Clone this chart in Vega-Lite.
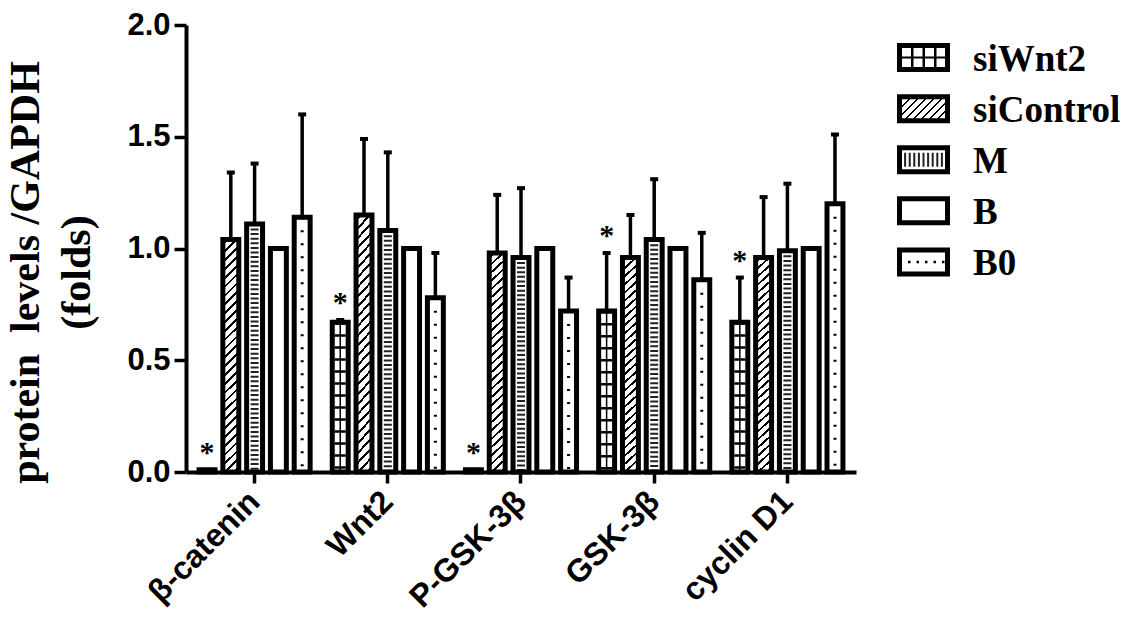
{
  "$schema": "https://vega.github.io/schema/vega-lite/v6.json",
  "width": 670,
  "height": 447,
  "autosize": {"type": "none"},
  "padding": {"left": 186, "top": 25, "right": 290, "bottom": 146},
  "background": "white",
  "config": {
    "view": {"stroke": null},
    "axisY": {
      "titleFont": "Liberation Serif",
      "titleFontSize": 42,
      "titleFontWeight": "bold",
      "titleColor": "black",
      "titleLineHeight": 51,
      "titleAngle": 270,
      "titleAlign": "center",
      "titleBaseline": "alphabetic",
      "titleX": -148,
      "titleY": 247,
      "grid": false,
      "labelFont": "Liberation Sans",
      "labelFontSize": 31,
      "labelFontWeight": "bold",
      "labelColor": "black",
      "labelPadding": 4,
      "tickSize": 12,
      "tickWidth": 3.5,
      "tickColor": "black",
      "domainColor": "black",
      "domainWidth": 4
    }
  },
  "datasets": {
    "bars": [
      {"category": "β-catenin", "group": "siWnt2", "value": 0.01, "upper": 0.01, "sig": "*"},
      {"category": "β-catenin", "group": "siControl", "value": 1.04, "upper": 1.34, "sig": ""},
      {"category": "β-catenin", "group": "M", "value": 1.11, "upper": 1.38, "sig": ""},
      {"category": "β-catenin", "group": "B", "value": 1.0, "upper": null, "sig": ""},
      {"category": "β-catenin", "group": "B0", "value": 1.14, "upper": 1.6, "sig": ""},
      {"category": "Wnt2", "group": "siWnt2", "value": 0.67, "upper": 0.68, "sig": "*"},
      {"category": "Wnt2", "group": "siControl", "value": 1.15, "upper": 1.49, "sig": ""},
      {"category": "Wnt2", "group": "M", "value": 1.08, "upper": 1.43, "sig": ""},
      {"category": "Wnt2", "group": "B", "value": 1.0, "upper": null, "sig": ""},
      {"category": "Wnt2", "group": "B0", "value": 0.78, "upper": 0.98, "sig": ""},
      {"category": "P-GSK-3β", "group": "siWnt2", "value": 0.01, "upper": 0.01, "sig": "*"},
      {"category": "P-GSK-3β", "group": "siControl", "value": 0.98, "upper": 1.24, "sig": ""},
      {"category": "P-GSK-3β", "group": "M", "value": 0.96, "upper": 1.27, "sig": ""},
      {"category": "P-GSK-3β", "group": "B", "value": 1.0, "upper": null, "sig": ""},
      {"category": "P-GSK-3β", "group": "B0", "value": 0.72, "upper": 0.87, "sig": ""},
      {"category": "GSK-3β", "group": "siWnt2", "value": 0.72, "upper": 0.98, "sig": "*"},
      {"category": "GSK-3β", "group": "siControl", "value": 0.96, "upper": 1.15, "sig": ""},
      {"category": "GSK-3β", "group": "M", "value": 1.04, "upper": 1.31, "sig": ""},
      {"category": "GSK-3β", "group": "B", "value": 1.0, "upper": null, "sig": ""},
      {"category": "GSK-3β", "group": "B0", "value": 0.86, "upper": 1.07, "sig": ""},
      {"category": "cyclin D1", "group": "siWnt2", "value": 0.67, "upper": 0.87, "sig": "*"},
      {"category": "cyclin D1", "group": "siControl", "value": 0.96, "upper": 1.23, "sig": ""},
      {"category": "cyclin D1", "group": "M", "value": 0.99, "upper": 1.29, "sig": ""},
      {"category": "cyclin D1", "group": "B", "value": 1.0, "upper": null, "sig": ""},
      {"category": "cyclin D1", "group": "B0", "value": 1.2, "upper": 1.51, "sig": ""}
    ],
    "legend": [
      {"group": "siWnt2"},
      {"group": "siControl"},
      {"group": "M"},
      {"group": "B"},
      {"group": "B0"}
    ]
  },
  "layer": [
    {
      "data": {"name": "bars"},
      "encoding": {
        "x": {
          "field": "category",
          "type": "nominal",
          "sort": ["β-catenin", "Wnt2", "P-GSK-3β", "GSK-3β", "cyclin D1"],
          "scale": {"paddingInner": 0.1, "paddingOuter": 0.065},
          "axis": {
            "title": null,
            "labelAngle": -45,
            "labelAlign": "right",
            "labelBaseline": "middle",
            "labelFont": "Liberation Sans",
            "labelFontSize": 32,
            "labelFontWeight": "bold",
            "labelColor": "black",
            "labelPadding": 13,
            "tickSize": 11,
            "tickWidth": 3.5,
            "tickColor": "black",
            "domainColor": "black",
            "domainWidth": 4
          }
        },
        "xOffset": {
          "field": "group",
          "type": "nominal",
          "sort": ["siWnt2", "siControl", "M", "B", "B0"],
          "scale": {"paddingInner": 0.33, "paddingOuter": 0.185}
        },
        "y": {
          "field": "value",
          "type": "quantitative",
          "scale": {"domain": [0, 2], "nice": false},
          "axis": {"title": ["protein\u00a0\u00a0levels /GAPDH", "(folds)"], "values": [0, 0.5, 1, 1.5, 2], "format": ".1f"}
        }
      },
      "layer": [
        {"mark": {"type": "bar", "fill": "white", "stroke": null}},
        {
          "transform": [{"filter": "datum.group === 'siControl'"}],
          "mark": {
            "type": "bar",
            "stroke": null,
            "fill": {
              "gradient": "linear",
              "x1": 0, "y1": 0, "x2": 0.072, "y2": 1.06,
              "stops": [
                {"offset": 0, "color": "white"},
                {"offset": 0.0143, "color": "white"}, {"offset": 0.0143, "color": "black"}, {"offset": 0.0253, "color": "black"}, {"offset": 0.0253, "color": "white"},
                {"offset": 0.05, "color": "white"}, {"offset": 0.05, "color": "black"}, {"offset": 0.061, "color": "black"}, {"offset": 0.061, "color": "white"},
                {"offset": 0.0857, "color": "white"}, {"offset": 0.0857, "color": "black"}, {"offset": 0.0967, "color": "black"}, {"offset": 0.0967, "color": "white"},
                {"offset": 0.1214, "color": "white"}, {"offset": 0.1214, "color": "black"}, {"offset": 0.1324, "color": "black"}, {"offset": 0.1324, "color": "white"},
                {"offset": 0.1571, "color": "white"}, {"offset": 0.1571, "color": "black"}, {"offset": 0.1681, "color": "black"}, {"offset": 0.1681, "color": "white"},
                {"offset": 0.1929, "color": "white"}, {"offset": 0.1929, "color": "black"}, {"offset": 0.2039, "color": "black"}, {"offset": 0.2039, "color": "white"},
                {"offset": 0.2286, "color": "white"}, {"offset": 0.2286, "color": "black"}, {"offset": 0.2396, "color": "black"}, {"offset": 0.2396, "color": "white"},
                {"offset": 0.2643, "color": "white"}, {"offset": 0.2643, "color": "black"}, {"offset": 0.2753, "color": "black"}, {"offset": 0.2753, "color": "white"},
                {"offset": 0.3, "color": "white"}, {"offset": 0.3, "color": "black"}, {"offset": 0.311, "color": "black"}, {"offset": 0.311, "color": "white"},
                {"offset": 0.3357, "color": "white"}, {"offset": 0.3357, "color": "black"}, {"offset": 0.3467, "color": "black"}, {"offset": 0.3467, "color": "white"},
                {"offset": 0.3714, "color": "white"}, {"offset": 0.3714, "color": "black"}, {"offset": 0.3824, "color": "black"}, {"offset": 0.3824, "color": "white"},
                {"offset": 0.4071, "color": "white"}, {"offset": 0.4071, "color": "black"}, {"offset": 0.4181, "color": "black"}, {"offset": 0.4181, "color": "white"},
                {"offset": 0.4429, "color": "white"}, {"offset": 0.4429, "color": "black"}, {"offset": 0.4539, "color": "black"}, {"offset": 0.4539, "color": "white"},
                {"offset": 0.4786, "color": "white"}, {"offset": 0.4786, "color": "black"}, {"offset": 0.4896, "color": "black"}, {"offset": 0.4896, "color": "white"},
                {"offset": 0.5143, "color": "white"}, {"offset": 0.5143, "color": "black"}, {"offset": 0.5253, "color": "black"}, {"offset": 0.5253, "color": "white"},
                {"offset": 0.55, "color": "white"}, {"offset": 0.55, "color": "black"}, {"offset": 0.561, "color": "black"}, {"offset": 0.561, "color": "white"},
                {"offset": 0.5857, "color": "white"}, {"offset": 0.5857, "color": "black"}, {"offset": 0.5967, "color": "black"}, {"offset": 0.5967, "color": "white"},
                {"offset": 0.6214, "color": "white"}, {"offset": 0.6214, "color": "black"}, {"offset": 0.6324, "color": "black"}, {"offset": 0.6324, "color": "white"},
                {"offset": 0.6571, "color": "white"}, {"offset": 0.6571, "color": "black"}, {"offset": 0.6681, "color": "black"}, {"offset": 0.6681, "color": "white"},
                {"offset": 0.6929, "color": "white"}, {"offset": 0.6929, "color": "black"}, {"offset": 0.7039, "color": "black"}, {"offset": 0.7039, "color": "white"},
                {"offset": 0.7286, "color": "white"}, {"offset": 0.7286, "color": "black"}, {"offset": 0.7396, "color": "black"}, {"offset": 0.7396, "color": "white"},
                {"offset": 0.7643, "color": "white"}, {"offset": 0.7643, "color": "black"}, {"offset": 0.7753, "color": "black"}, {"offset": 0.7753, "color": "white"},
                {"offset": 0.8, "color": "white"}, {"offset": 0.8, "color": "black"}, {"offset": 0.811, "color": "black"}, {"offset": 0.811, "color": "white"},
                {"offset": 0.8357, "color": "white"}, {"offset": 0.8357, "color": "black"}, {"offset": 0.8467, "color": "black"}, {"offset": 0.8467, "color": "white"},
                {"offset": 0.8714, "color": "white"}, {"offset": 0.8714, "color": "black"}, {"offset": 0.8824, "color": "black"}, {"offset": 0.8824, "color": "white"},
                {"offset": 0.9071, "color": "white"}, {"offset": 0.9071, "color": "black"}, {"offset": 0.9181, "color": "black"}, {"offset": 0.9181, "color": "white"},
                {"offset": 0.9429, "color": "white"}, {"offset": 0.9429, "color": "black"}, {"offset": 0.9539, "color": "black"}, {"offset": 0.9539, "color": "white"},
                {"offset": 0.9786, "color": "white"}, {"offset": 0.9786, "color": "black"}, {"offset": 0.9896, "color": "black"}, {"offset": 0.9896, "color": "white"},
                {"offset": 1, "color": "white"}
              ]
            }
          }
        },
        {
          "transform": [{"filter": "datum.group === 'siWnt2' && datum.value > 0.05"}],
          "mark": {"type": "rule", "color": "black", "strokeWidth": 11, "strokeDash": [2.5, 9.5]},
          "encoding": {"y2": {"datum": 0}}
        },
        {
          "transform": [{"filter": "datum.group === 'siWnt2' && datum.value > 0.05"}],
          "mark": {"type": "rule", "color": "black", "strokeWidth": 1.5},
          "encoding": {"y2": {"datum": 0}}
        },
        {
          "transform": [{"filter": "datum.group === 'M'"}],
          "mark": {"type": "rule", "color": "#222222", "strokeWidth": 8, "strokeDash": [2, 2.6]},
          "encoding": {"y2": {"datum": 0}}
        },
        {
          "transform": [{"filter": "datum.group === 'B0'"}],
          "mark": {"type": "rule", "color": "black", "strokeWidth": 3, "strokeDash": [2, 11], "xOffset": 2},
          "encoding": {"y2": {"datum": 0}}
        },
        {"mark": {"type": "bar", "fill": "transparent", "stroke": "black", "strokeWidth": 5}},
        {
          "transform": [{"filter": "datum.upper != null"}],
          "mark": {"type": "rule", "color": "black", "strokeWidth": 3.5},
          "encoding": {"y2": {"field": "upper"}}
        },
        {
          "transform": [{"filter": "datum.upper != null"}],
          "mark": {"type": "tick", "color": "black", "size": 8, "thickness": 4, "opacity": 1},
          "encoding": {
            "y": {"field": "upper", "type": "quantitative", "axis": {"title": ["protein\u00a0\u00a0levels /GAPDH", "(folds)"], "values": [0, 0.5, 1, 1.5, 2], "format": ".1f"}}
          }
        },
        {
          "transform": [{"filter": "datum.sig !== ''"}],
          "mark": {"type": "text", "font": "Liberation Serif", "fontWeight": "bold", "fontSize": 30, "color": "black", "baseline": "alphabetic", "dy": -8},
          "encoding": {
            "y": {"field": "upper", "type": "quantitative", "axis": {"title": ["protein\u00a0\u00a0levels /GAPDH", "(folds)"], "values": [0, 0.5, 1, 1.5, 2], "format": ".1f"}},
            "text": {"field": "sig"}
          }
        }
      ]
    },
    {
      "data": {"name": "legend"},
      "encoding": {
        "y": {
          "field": "group",
          "type": "nominal",
          "sort": ["siWnt2", "siControl", "M", "B", "B0"],
          "scale": {"range": [7, 262.5], "paddingInner": 0.53, "paddingOuter": 0.265},
          "axis": null
        },
        "x": {"datum": 0, "type": "quantitative", "scale": {"domain": [0, 1], "range": [713.5, 761.5], "nice": false, "zero": false}, "axis": null},
        "x2": {"datum": 1}
      },
      "layer": [
        {"mark": {"type": "rect", "fill": "white", "stroke": null}},
        {
          "transform": [{"filter": "datum.group === 'siControl'"}],
          "mark": {
            "type": "rect",
            "stroke": null,
            "fill": {
              "gradient": "linear",
              "x1": 0, "y1": 0, "x2": 1.2, "y2": 0.6,
              "stops": [
                {"offset": 0, "color": "white"},
                {"offset": 0.0444, "color": "white"}, {"offset": 0.0444, "color": "black"}, {"offset": 0.0794, "color": "black"}, {"offset": 0.0794, "color": "white"},
                {"offset": 0.1556, "color": "white"}, {"offset": 0.1556, "color": "black"}, {"offset": 0.1906, "color": "black"}, {"offset": 0.1906, "color": "white"},
                {"offset": 0.2667, "color": "white"}, {"offset": 0.2667, "color": "black"}, {"offset": 0.3017, "color": "black"}, {"offset": 0.3017, "color": "white"},
                {"offset": 0.3778, "color": "white"}, {"offset": 0.3778, "color": "black"}, {"offset": 0.4128, "color": "black"}, {"offset": 0.4128, "color": "white"},
                {"offset": 0.4889, "color": "white"}, {"offset": 0.4889, "color": "black"}, {"offset": 0.5239, "color": "black"}, {"offset": 0.5239, "color": "white"},
                {"offset": 0.6, "color": "white"}, {"offset": 0.6, "color": "black"}, {"offset": 0.635, "color": "black"}, {"offset": 0.635, "color": "white"},
                {"offset": 0.7111, "color": "white"}, {"offset": 0.7111, "color": "black"}, {"offset": 0.7461, "color": "black"}, {"offset": 0.7461, "color": "white"},
                {"offset": 0.8222, "color": "white"}, {"offset": 0.8222, "color": "black"}, {"offset": 0.8572, "color": "black"}, {"offset": 0.8572, "color": "white"},
                {"offset": 0.9333, "color": "white"}, {"offset": 0.9333, "color": "black"}, {"offset": 0.9683, "color": "black"}, {"offset": 0.9683, "color": "white"},
                {"offset": 1, "color": "white"}
              ]
            }
          }
        },
        {
          "transform": [{"filter": "datum.group === 'siWnt2'"}],
          "mark": {"type": "rule", "color": "black", "strokeWidth": 20, "strokeDash": [2.5, 9]}
        },
        {
          "transform": [{"filter": "datum.group === 'siWnt2'"}],
          "mark": {"type": "rule", "color": "black", "strokeWidth": 2}
        },
        {
          "transform": [{"filter": "datum.group === 'M'"}],
          "mark": {"type": "rule", "color": "#222222", "strokeWidth": 14, "strokeDash": [2, 2.6]}
        },
        {
          "transform": [{"filter": "datum.group === 'B0'"}],
          "mark": {"type": "rule", "color": "black", "strokeWidth": 2.5, "strokeDash": [2.5, 6]}
        },
        {"mark": {"type": "rect", "fill": "transparent", "stroke": "black", "strokeWidth": 5}},
        {
          "mark": {"type": "text", "font": "Liberation Serif", "fontWeight": "bold", "fontSize": 37, "color": "black", "align": "left", "baseline": "middle", "dx": 25.5, "dy": 2},
          "encoding": {
            "x": {"datum": 1, "type": "quantitative"},
            "x2": null,
            "text": {"field": "group"}
          }
        }
      ]
    }
  ],
  "resolve": {"scale": {"x": "independent", "y": "independent"}}
}
